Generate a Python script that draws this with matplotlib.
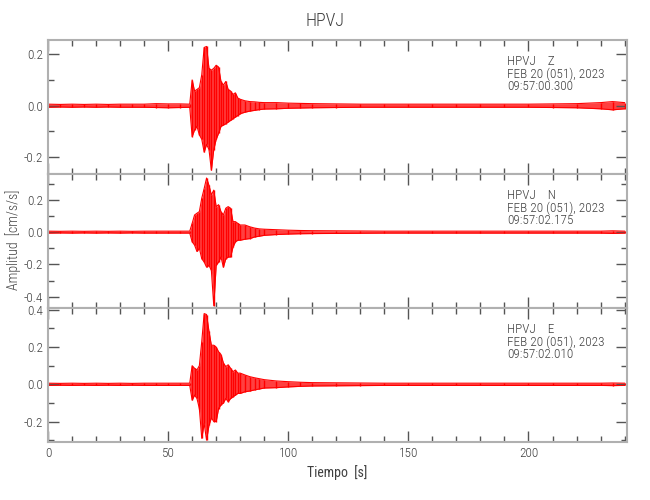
import numpy as np
import matplotlib
matplotlib.use('Agg')
import matplotlib.pyplot as plt
from matplotlib.ticker import MultipleLocator, FormatStrFormatter

plt.rcParams['font.family'] = ['Roboto Condensed', 'Roboto', 'DejaVu Sans']
plt.rcParams['font.weight'] = 'light'

# time grid (s) shared by the three envelopes
t = [0, 5, 10, 15, 20, 25, 30, 35, 40, 45, 50, 55, 59,
     60, 61, 62, 63, 64, 65, 66, 67, 68, 69, 70, 71, 72, 73, 74, 75, 76, 77, 78, 79, 80,
     82, 84, 86, 88, 90, 95, 100, 105, 110,
     120, 130, 140, 150, 160, 170, 180, 190, 200, 210, 220, 230, 235, 240]

# HPVJ Z
z_up = [0.006, 0.005, 0.006, 0.005, 0.006, 0.005, 0.006, 0.006, 0.006, 0.008, 0.007, 0.007, 0.006,
        0.100, 0.057, 0.063, 0.070, 0.120, 0.226, 0.230, 0.145, 0.138, 0.145, 0.157, 0.150, 0.094,
        0.080, 0.094, 0.063, 0.057, 0.044, 0.050, 0.030, 0.025,
        0.019, 0.016, 0.015, 0.013, 0.012, 0.012, 0.010, 0.009, 0.008,
        0.007, 0.006, 0.006, 0.006, 0.006, 0.006, 0.006, 0.006, 0.006, 0.007, 0.008, 0.012, 0.016, 0.012]
z_lo = [-0.006, -0.005, -0.006, -0.005, -0.006, -0.005, -0.006, -0.006, -0.006, -0.007, -0.008, -0.007, -0.006,
        -0.120, -0.094, -0.080, -0.113, -0.130, -0.180, -0.150, -0.170, -0.250, -0.170, -0.130, -0.107, -0.080,
        -0.075, -0.070, -0.063, -0.057, -0.050, -0.044, -0.038, -0.031,
        -0.025, -0.021, -0.018, -0.015, -0.013, -0.012, -0.010, -0.009, -0.008,
        -0.007, -0.006, -0.006, -0.006, -0.006, -0.006, -0.006, -0.006, -0.006, -0.007, -0.008, -0.012, -0.016, -0.012]

# HPVJ N
n_up = [0.006, 0.005, 0.006, 0.005, 0.006, 0.005, 0.006, 0.005, 0.006, 0.006, 0.006, 0.006, 0.006,
        0.054, 0.106, 0.117, 0.127, 0.210, 0.270, 0.335, 0.290, 0.230, 0.260, 0.158, 0.170, 0.127,
        0.106, 0.148, 0.158, 0.148, 0.065, 0.065, 0.054, 0.044,
        0.044, 0.033, 0.025, 0.020, 0.018, 0.015, 0.012, 0.010, 0.009,
        0.008, 0.007, 0.006, 0.006, 0.006, 0.006, 0.006, 0.006, 0.006, 0.006, 0.006, 0.006, 0.008, 0.006]
n_lo = [-0.006, -0.005, -0.006, -0.005, -0.006, -0.005, -0.006, -0.005, -0.006, -0.006, -0.006, -0.006, -0.006,
        -0.060, -0.080, -0.120, -0.100, -0.165, -0.185, -0.217, -0.206, -0.237, -0.456, -0.206, -0.185, -0.154,
        -0.217, -0.165, -0.154, -0.154, -0.092, -0.060, -0.050, -0.050,
        -0.044, -0.040, -0.030, -0.025, -0.020, -0.015, -0.012, -0.010, -0.009,
        -0.008, -0.007, -0.006, -0.006, -0.006, -0.006, -0.006, -0.006, -0.006, -0.006, -0.006, -0.006, -0.008, -0.006]

# HPVJ E
e_up = [0.006, 0.005, 0.006, 0.005, 0.006, 0.005, 0.006, 0.005, 0.006, 0.006, 0.006, 0.006, 0.006,
        0.100, 0.086, 0.077, 0.100, 0.230, 0.380, 0.375, 0.285, 0.210, 0.210, 0.200, 0.175, 0.160,
        0.115, 0.095, 0.105, 0.086, 0.068, 0.077, 0.060, 0.060,
        0.050, 0.041, 0.035, 0.030, 0.025, 0.018, 0.014, 0.011, 0.009,
        0.008, 0.007, 0.006, 0.006, 0.006, 0.006, 0.006, 0.006, 0.006, 0.006, 0.006, 0.006, 0.007, 0.006]
e_lo = [-0.006, -0.005, -0.006, -0.005, -0.006, -0.005, -0.006, -0.005, -0.006, -0.006, -0.006, -0.006, -0.006,
        -0.085, -0.058, -0.076, -0.130, -0.290, -0.210, -0.300, -0.220, -0.180, -0.200, -0.200, -0.130, -0.110,
        -0.100, -0.076, -0.094, -0.076, -0.067, -0.058, -0.049, -0.049,
        -0.040, -0.036, -0.030, -0.025, -0.020, -0.018, -0.014, -0.011, -0.009,
        -0.008, -0.007, -0.006, -0.006, -0.006, -0.006, -0.006, -0.006, -0.006, -0.006, -0.006, -0.006, -0.007, -0.006]

comps = ['Z', 'N', 'E']
starts = ['09:57:00.300', '09:57:02.175', '09:57:02.010']
ylims = [(-0.265, 0.255), (-0.47, 0.36), (-0.31, 0.41)]
yticks = [[-0.2, 0.0, 0.2], [-0.4, -0.2, 0.0, 0.2], [-0.2, 0.0, 0.2, 0.4]]
traces = [(z_up, z_lo), (n_up, n_lo), (e_up, e_lo)]

txt = '#404040'
spine = '#b0b0b0'

fig = plt.figure(figsize=(6.5, 5), dpi=100)
left, right, top, bottom = 48/650, 627/650, 1 - 40/500, 1 - 442/500
h = (top - bottom) / 3

for i in range(3):
    ax = fig.add_axes([left, top - (i + 1) * h, right - left, h])
    up, lo = traces[i]
    ax.fill_between(t, lo, up, color='red', alpha=0.75, lw=0)
    ax.vlines(t, lo, up, color='red', lw=1.0)
    ax.plot(t, up, color='red', lw=0.8)
    ax.plot(t, lo, color='red', lw=0.8)
    ax.set_xlim(0, 241)
    ax.set_ylim(*ylims[i])
    ax.set_yticks(yticks[i])
    ax.yaxis.set_minor_locator(MultipleLocator(0.1))
    ax.yaxis.set_major_formatter(FormatStrFormatter('%.1f'))
    ax.xaxis.set_major_locator(MultipleLocator(50))
    ax.xaxis.set_minor_locator(MultipleLocator(10))
    ax.tick_params(which='both', direction='in', top=True, right=True,
                   colors='#555555', labelcolor=txt, labelsize=9.5, width=1)
    ax.tick_params(which='major', length=8)
    ax.tick_params(which='minor', length=4)
    for s in ax.spines.values():
        s.set_color(spine)
        s.set_linewidth(1.5)
    if i < 2:
        ax.tick_params(labelbottom=False)
    else:
        ax.set_xlabel('Tiempo  [s]', color=txt, fontsize=10)
    ax.text(0.793, 0.84, 'HPVJ    ' + comps[i], transform=ax.transAxes,
            color=txt, fontsize=9.5, va='center')
    ax.text(0.793, 0.745, 'FEB 20 (051), 2023', transform=ax.transAxes,
            color=txt, fontsize=9.5, va='center')
    ax.text(0.793, 0.65, starts[i], transform=ax.transAxes,
            color=txt, fontsize=9.5, va='center')

fig.text(0.5, 0.958, 'HPVJ', ha='center', va='center', color=txt, fontsize=13)
fig.text(0.02, 0.52, 'Amplitud  [cm/s/s]', rotation=90, ha='center', va='center',
         color=txt, fontsize=10)

fig.savefig('out.png', dpi=100)
